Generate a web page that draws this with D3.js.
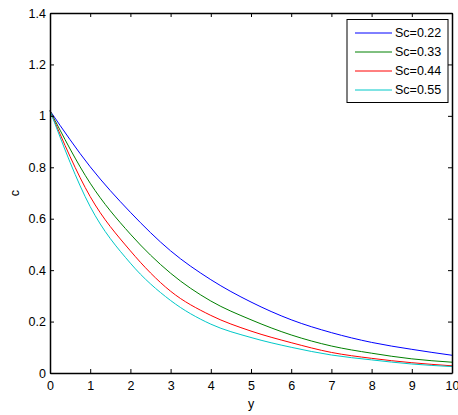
<!DOCTYPE html>
<html>
<head>
<meta charset="utf-8">
<script src="https://cdn.jsdelivr.net/npm/d3@7/dist/d3.min.js"></script>
<style>
  html, body { margin: 0; padding: 0; background: #fff; }
  svg { display: block; font-family: "Liberation Sans", Arial, sans-serif; }
</style>
</head>
<body>
<svg id="chart" width="458" height="415"></svg>
<script>
// Concentration profiles c(y) for several Schmidt numbers
const yPos = [0, 1, 2, 3, 4, 5, 6, 7, 8, 9, 10];
const sc022 = [1.02, 0.802, 0.625, 0.475, 0.363, 0.276, 0.207, 0.157, 0.119, 0.092, 0.069];
const sc033 = [1.02, 0.738, 0.540, 0.388, 0.280, 0.207, 0.148, 0.105, 0.077, 0.055, 0.042];
const sc044 = [1.02, 0.686, 0.475, 0.318, 0.224, 0.163, 0.118, 0.080, 0.057, 0.040, 0.028];
const sc055 = [1.02, 0.647, 0.427, 0.282, 0.190, 0.138, 0.100, 0.070, 0.051, 0.035, 0.025];
const seriesNames = ["Sc=0.22", "Sc=0.33", "Sc=0.44", "Sc=0.55"];
const seriesColors = ["#0000ff", "#008000", "#ff0000", "#00c8c8"];
const xTicks = [0, 1, 2, 3, 4, 5, 6, 7, 8, 9, 10];
const yTicks = [0, 0.2, 0.4, 0.6, 0.8, 1, 1.2, 1.4];

const series = [sc022, sc033, sc044, sc055].map((vals, i) => ({
  name: seriesNames[i],
  color: seriesColors[i],
  points: vals.map((v, j) => [yPos[j], v])
}));

const svg = d3.select("#chart");
const plotLeft = 50, plotRight = 452, plotTop = 13, plotBottom = 373;

const x = d3.scaleLinear().domain([0, 10]).range([plotLeft, plotRight]);
const y = d3.scaleLinear().domain([0, 1.4]).range([plotBottom, plotTop]);

// curves
const line = d3.line()
  .x(d => x(d[0]))
  .y(d => y(d[1]))
  .curve(d3.curveMonotoneX);

svg.append("g").selectAll("path")
  .data(series)
  .join("path")
  .attr("d", d => line(d.points))
  .attr("fill", "none")
  .attr("stroke", d => d.color)
  .attr("stroke-width", 1);

// axes with inward ticks
const fmt = d => String(d);
const fontSize = "12.5px";

const gB = svg.append("g").attr("transform", `translate(0,${plotBottom})`)
  .call(d3.axisBottom(x).tickValues(xTicks).tickFormat(fmt).tickSizeInner(-4).tickSizeOuter(0).tickPadding(8));
const gL = svg.append("g").attr("transform", `translate(${plotLeft},0)`)
  .call(d3.axisLeft(y).tickValues(yTicks).tickFormat(fmt).tickSizeInner(-4).tickSizeOuter(0).tickPadding(4));
const gT = svg.append("g").attr("transform", `translate(0,${plotTop})`)
  .call(d3.axisTop(x).tickValues(xTicks).tickFormat("").tickSizeInner(-4).tickSizeOuter(0));
const gR = svg.append("g").attr("transform", `translate(${plotRight},0)`)
  .call(d3.axisRight(y).tickValues(yTicks).tickFormat("").tickSizeInner(-4).tickSizeOuter(0));

[gB, gL, gT, gR].forEach(g => {
  g.selectAll(".domain").attr("stroke", "#000").attr("stroke-width", 1.5);
  g.selectAll(".tick line").attr("stroke", "#000").attr("stroke-width", 1);
  g.selectAll("text").attr("fill", "#000").style("font-size", fontSize)
    .style("font-family", "'Liberation Sans', Arial, sans-serif");
});

// axis titles
svg.append("text")
  .attr("x", (plotLeft + plotRight) / 2).attr("y", 408)
  .attr("text-anchor", "middle")
  .style("font-size", fontSize)
  .text("y");
svg.append("text")
  .attr("transform", `translate(19,193) rotate(-90)`)
  .attr("text-anchor", "middle")
  .style("font-size", fontSize)
  .text("c");

// legend
const lg = svg.append("g");
lg.append("rect")
  .attr("x", 347).attr("y", 19.5)
  .attr("width", 101).attr("height", 83)
  .attr("fill", "#fff").attr("stroke", "#000").attr("stroke-width", 1);
const rowY = [33, 52, 71, 90];
series.forEach((s, i) => {
  lg.append("line")
    .attr("x1", 355).attr("x2", 392)
    .attr("y1", rowY[i]).attr("y2", rowY[i])
    .attr("stroke", s.color).attr("stroke-width", 1);
  lg.append("text")
    .attr("x", 395).attr("y", rowY[i]).attr("dy", "0.35em")
    .style("font-size", fontSize)
    .text(s.name);
});
</script>
</body>
</html>
